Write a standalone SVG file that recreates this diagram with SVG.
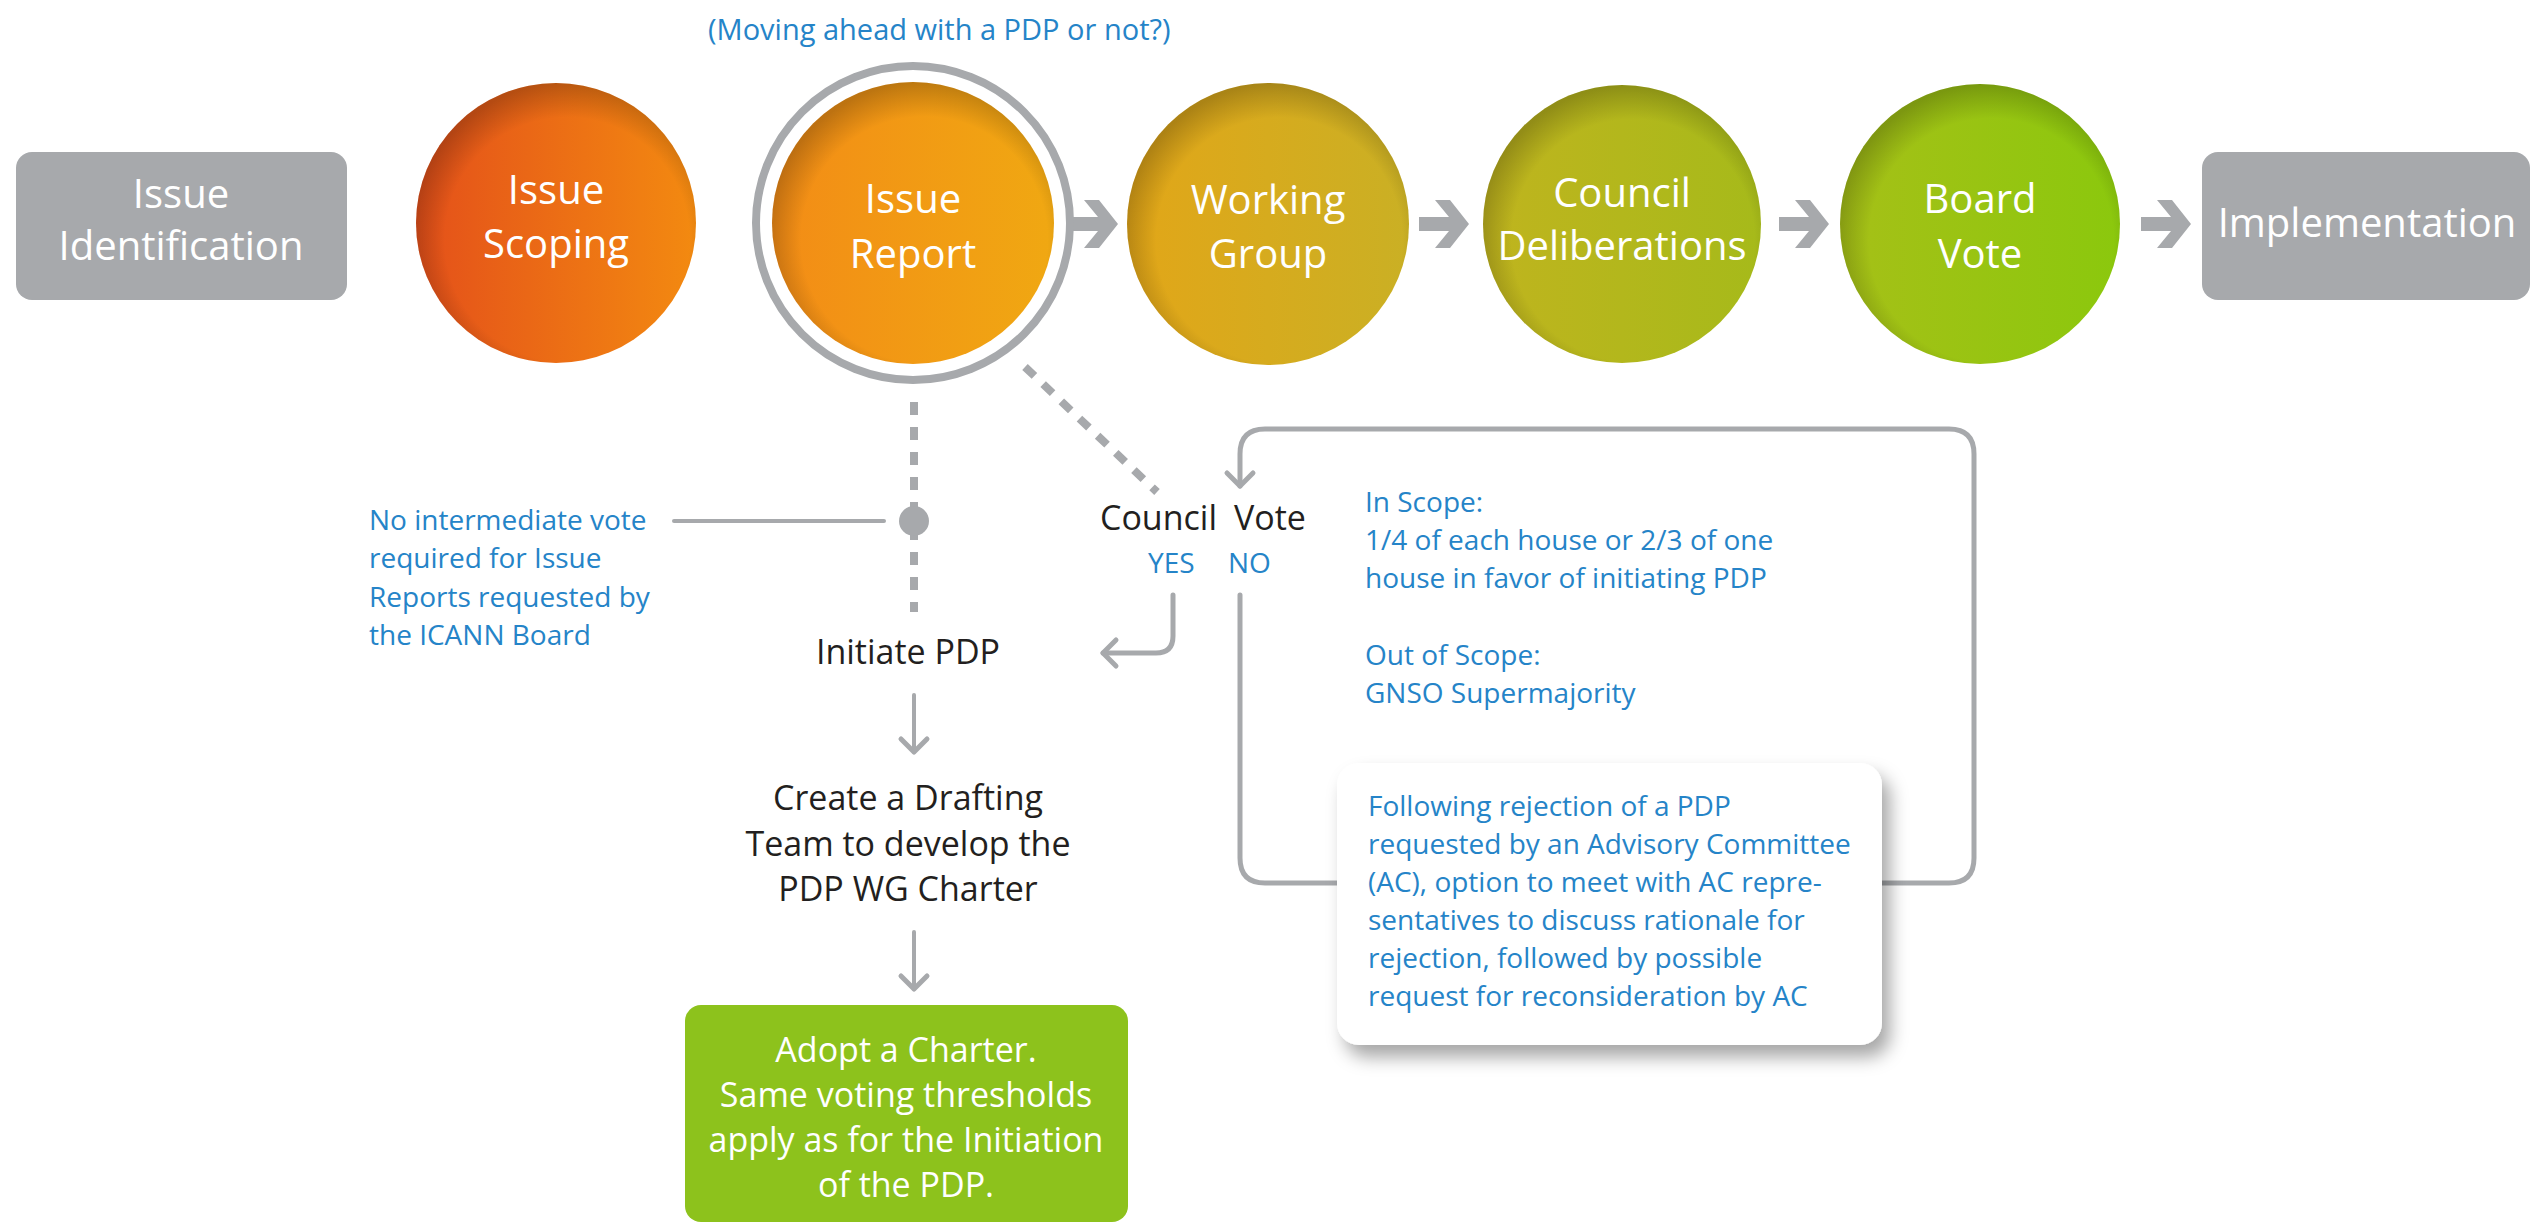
<svg xmlns="http://www.w3.org/2000/svg" width="2532" height="1225" viewBox="0 0 2532 1225">
<style>
.lbl{font-family:"Open Sans","Noto Sans",sans-serif;fill:#fff;font-size:40px;text-anchor:middle}
.blk{font-family:"Open Sans","Noto Sans",sans-serif;fill:#231f20;font-size:34px}
.blue{font-family:"Open Sans","Noto Sans",sans-serif;fill:#2584c8;font-size:28px}
.grn{font-family:"Open Sans","Noto Sans",sans-serif;fill:#fff;font-size:34px;text-anchor:middle}
.gbox{fill:#a7a9ac}
.conn{fill:none;stroke:#a7a9ac;stroke-width:5;stroke-linecap:round;stroke-linejoin:round}
.dash{fill:none;stroke:#a7a9ac;stroke-width:8;stroke-dasharray:13 12}
.arrow{fill:#a7a9ac}
</style>
<defs>
<linearGradient id="gScope" x1="0" x2="1" y1="0" y2="0"><stop offset="0" stop-color="#e4501a"/><stop offset="1" stop-color="#f38a10"/></linearGradient>
<linearGradient id="gReport" x1="0" x2="1" y1="0" y2="0"><stop offset="0" stop-color="#f38c16"/><stop offset="1" stop-color="#f0a812"/></linearGradient>
<linearGradient id="gWG" x1="0" x2="1" y1="0" y2="0"><stop offset="0" stop-color="#e2a618"/><stop offset="1" stop-color="#cab024"/></linearGradient>
<linearGradient id="gCD" x1="0" x2="1" y1="0" y2="0"><stop offset="0" stop-color="#c0b41e"/><stop offset="1" stop-color="#a6ba1a"/></linearGradient>
<linearGradient id="gBV" x1="0" x2="1" y1="0" y2="0"><stop offset="0" stop-color="#a6c017"/><stop offset="1" stop-color="#8bc80d"/></linearGradient>
<radialGradient id="rim" cx="0.54" cy="0.56" r="0.56"><stop offset="0.78" stop-color="#000" stop-opacity="0"/><stop offset="1" stop-color="#000" stop-opacity="0.22"/></radialGradient>
<filter id="sh" x="-10%" y="-10%" width="130%" height="140%"><feDropShadow dx="8" dy="12" stdDeviation="9" flood-color="#000" flood-opacity="0.35"/></filter>
<path id="bigArrow" d="M0,-7 H30 L16,-24 H31 L50,0 L31,24 H16 L30,7 H0 Z"/>
<marker id="chev" markerUnits="userSpaceOnUse" markerWidth="40" markerHeight="40" viewBox="-20 -20 40 40" refX="0" refY="0" orient="auto">
<path d="M-13,-13 L0,0 L-13,13" fill="none" stroke="#a7a9ac" stroke-width="5" stroke-linecap="round" stroke-linejoin="round"/>
</marker>
</defs>
<rect width="2532" height="1225" fill="#fff"/>

<text class="blue" x="708" y="40" style="font-size:29px">(Moving ahead with a PDP or not?)</text>

<g id="connectors">
<use href="#bigArrow" class="arrow" x="1068" y="224"/>
<use href="#bigArrow" class="arrow" x="1419" y="224"/>
<use href="#bigArrow" class="arrow" x="1779" y="224"/>
<use href="#bigArrow" class="arrow" x="2141" y="224"/>
<line class="dash" x1="914" y1="402" x2="914" y2="612"/>
<line class="dash" x1="1025" y1="367" x2="1157" y2="492"/>
<line class="conn" x1="674" y1="521" x2="884" y2="521" style="stroke-width:4"/>
<circle cx="914" cy="521" r="15" fill="#a7a9ac"/>
<path class="conn" d="M1173,595 V636 Q1173,653 1156,653 H1103" marker-end="url(#chev)"/>
<line class="conn" x1="914" y1="695" x2="914" y2="752" style="stroke-width:4" marker-end="url(#chev)"/>
<line class="conn" x1="914" y1="932" x2="914" y2="989" style="stroke-width:4" marker-end="url(#chev)"/>
<path class="conn" d="M1240,595 V858 Q1240,883 1265,883 H1949 Q1974,883 1974,858 V454 Q1974,429 1949,429 H1265 Q1240,429 1240,454 V486" marker-end="url(#chev)"/>
</g>

<g id="issue-identification">
<rect class="gbox" x="16" y="152" width="331" height="148" rx="16"/>
<text class="lbl" x="181" y="208">Issue</text>
<text class="lbl" x="181" y="260">Identification</text>
</g>

<g id="issue-scoping">
<circle cx="556" cy="223" r="140" fill="url(#gScope)"/>
<circle cx="556" cy="223" r="140" fill="url(#rim)"/>
<text class="lbl" x="556" y="204">Issue</text>
<text class="lbl" x="556" y="258">Scoping</text>
</g>

<g id="issue-report">
<circle cx="913" cy="223" r="157" fill="none" stroke="#a7a9ac" stroke-width="8"/>
<circle cx="913" cy="223" r="141" fill="url(#gReport)"/>
<circle cx="913" cy="223" r="141" fill="url(#rim)"/>
<text class="lbl" x="913" y="213">Issue</text>
<text class="lbl" x="913" y="268">Report</text>
</g>

<g id="working-group">
<circle cx="1268" cy="224" r="141" fill="url(#gWG)"/>
<circle cx="1268" cy="224" r="141" fill="url(#rim)"/>
<text class="lbl" x="1268" y="214">Working</text>
<text class="lbl" x="1268" y="268">Group</text>
</g>

<g id="council-deliberations">
<circle cx="1622" cy="224" r="139" fill="url(#gCD)"/>
<circle cx="1622" cy="224" r="139" fill="url(#rim)"/>
<text class="lbl" x="1622" y="207">Council</text>
<text class="lbl" x="1622" y="260">Deliberations</text>
</g>

<g id="board-vote">
<circle cx="1980" cy="224" r="140" fill="url(#gBV)"/>
<circle cx="1980" cy="224" r="140" fill="url(#rim)"/>
<text class="lbl" x="1980" y="213">Board</text>
<text class="lbl" x="1980" y="268">Vote</text>
</g>

<g id="implementation">
<rect class="gbox" x="2202" y="152" width="328" height="148" rx="16"/>
<text class="lbl" x="2367" y="237">Implementation</text>
</g>

<g id="board-note">
<text class="blue" x="369" y="530">No intermediate vote</text>
<text class="blue" x="369" y="568">required for Issue</text>
<text class="blue" x="369" y="607">Reports requested by</text>
<text class="blue" x="369" y="645">the ICANN Board</text>
</g>

<g id="council-vote">
<text class="blk" y="530"><tspan x="1100">Council</tspan><tspan x="1234">Vote</tspan></text>
<text class="blue" x="1148" y="573">YES</text>
<text class="blue" x="1228" y="573">NO</text>
</g>

<g id="scope-note">
<text class="blue" x="1365" y="512">In Scope:</text>
<text class="blue" x="1365" y="550">1/4 of each house or 2/3 of one</text>
<text class="blue" x="1365" y="588">house in favor of initiating PDP</text>
<text class="blue" x="1365" y="665">Out of Scope:</text>
<text class="blue" x="1365" y="703">GNSO Supermajority</text>
</g>

<g id="initiate-pdp">
<text class="blk" x="908" y="664" text-anchor="middle">Initiate PDP</text>
</g>

<g id="drafting-team">
<text class="blk" x="908" y="810" text-anchor="middle">Create a Drafting</text>
<text class="blk" x="908" y="856" text-anchor="middle">Team to develop the</text>
<text class="blk" x="908" y="901" text-anchor="middle">PDP WG Charter</text>
</g>

<g id="adopt-charter">
<rect x="685" y="1005" width="443" height="217" rx="16" fill="#8dc21c"/>
<text class="grn" x="906" y="1062">Adopt a Charter.</text>
<text class="grn" x="906" y="1107">Same voting thresholds</text>
<text class="grn" x="906" y="1152">apply as for the Initiation</text>
<text class="grn" x="906" y="1197">of the PDP.</text>
</g>

<g id="rejection-note">
<rect x="1337" y="763" width="545" height="282" rx="22" fill="#fff" filter="url(#sh)"/>
<text class="blue" x="1368" y="816">Following rejection of a PDP</text>
<text class="blue" x="1368" y="854">requested by an Advisory Committee</text>
<text class="blue" x="1368" y="892">(AC), option to meet with AC repre-</text>
<text class="blue" x="1368" y="930">sentatives to discuss rationale for</text>
<text class="blue" x="1368" y="968">rejection, followed by possible</text>
<text class="blue" x="1368" y="1006">request for reconsideration by AC</text>
</g>
</svg>
